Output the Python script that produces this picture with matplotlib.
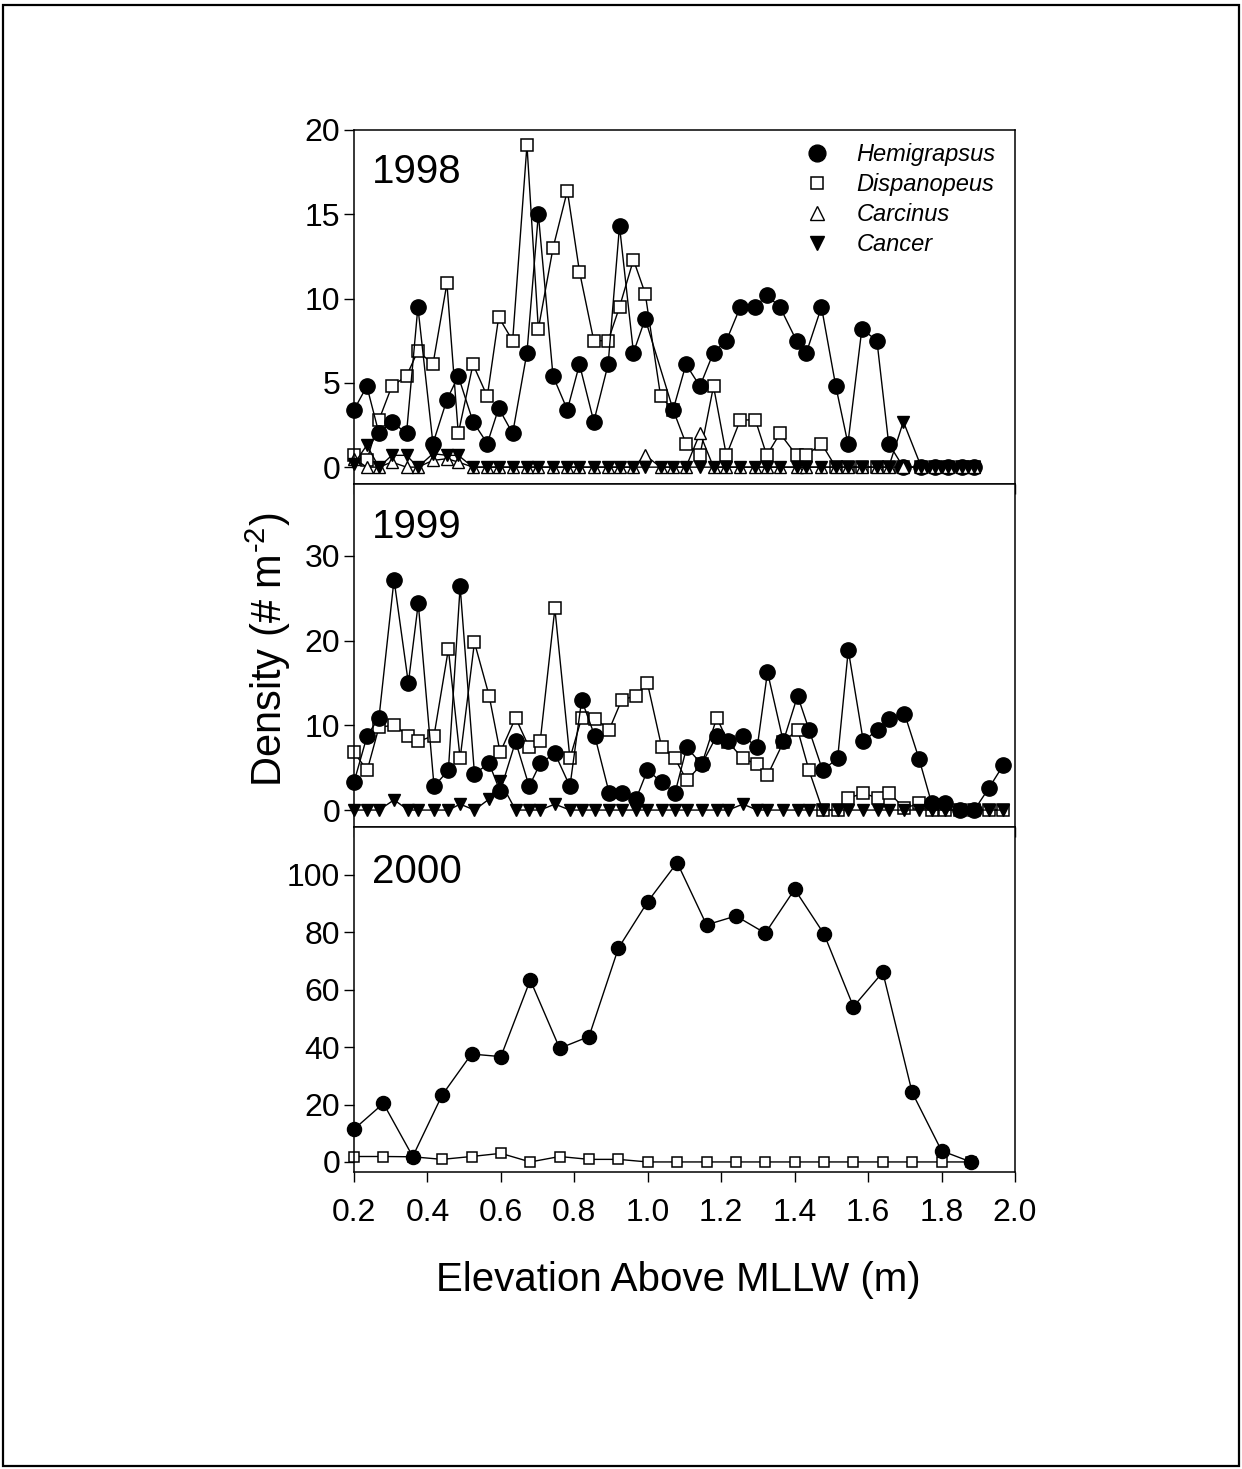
"""
Crab density vs elevation above MLLW, three survey years stacked.
Saves out.png
"""
import numpy as np
import matplotlib
matplotlib.use("Agg")
import matplotlib.pyplot as plt
from matplotlib.lines import Line2D
from matplotlib.patches import Rectangle

plt.rcParams["font.family"] = ["Liberation Sans", "DejaVu Sans"]
plt.rcParams["mathtext.fontset"] = "custom"
plt.rcParams["mathtext.rm"] = "Liberation Sans"
plt.rcParams["mathtext.it"] = "Liberation Sans:italic"

nan = np.nan

# ---- 1998 ----
elev_1998 = [0.200, 0.235, 0.268, 0.303, 0.343, 0.374, 0.415, 0.453, 0.484, 0.524,
             0.563, 0.594, 0.632, 0.671, 0.702, 0.742, 0.781, 0.814, 0.853, 0.892,
             0.923, 0.961, 0.993, 1.035, 1.069, 1.104, 1.142, 1.179, 1.214, 1.252,
             1.293, 1.324, 1.360, 1.405, 1.432, 1.473, 1.512, 1.545, 1.583, 1.624,
             1.656, 1.696, 1.745, 1.781, 1.818, 1.855, 1.887]
hemi_1998 = [3.4, 4.8, 2.0, 2.7, 2.0, 9.5, 1.4, 4.0, 5.4, 2.7,
             1.4, 3.5, 2.0, 6.8, 15.0, 5.4, 3.4, 6.1, 2.7, 6.1,
             14.3, 6.8, 8.8, nan, 3.4, 6.1, 4.8, 6.8, 7.5, 9.5,
             9.5, 10.2, 9.5, 7.5, 6.8, 9.5, 4.8, 1.4, 8.2, 7.5,
             1.4, 0, 0, 0, 0, 0, 0]
disp_1998 = [0.7, 0.4, 2.8, 4.8, 5.4, 6.9, 6.1, 10.9, 2.0, 6.1,
             4.2, 8.9, 7.5, 19.1, 8.2, 13.0, 16.4, 11.6, 7.5, 7.5,
             9.5, 12.3, 10.3, 4.2, 3.4, 1.4, 0.7, 4.8, 0.7, 2.8,
             2.8, 0.7, 2.0, 0.7, 0.7, 1.4, 0, 0, 0, 0,
             0, 0, 0, 0, 0, 0, 0]
carc_1998 = [0.5, 0, 0, 0.3, 0, 0, 0.4, 0.5, 0.3, 0,
             0, 0, 0, 0, 0, 0, 0, 0, 0, 0,
             0, 0, 0.7, 0, 0, 0, 2.0, 0, 0, 0,
             0, 0, 0, 0, 0, 0, 0, 0, 0, 0,
             0, 0, 0, 0, 0, 0, 0]
canc_1998 = [0.2, 1.3, 0, 0.7, 0.7, 0, 0.8, 0.7, 0.7, 0,
             0, 0, 0, 0, 0, 0, 0, 0, 0, 0,
             0, 0, 0, 0, 0, 0, 0, 0, 0, 0,
             0, 0, 0, 0, 0, 0, 0, 0, 0, 0,
             0, 2.7, 0, 0, 0, 0, 0]

# ---- 1999 ----
elev_1999 = [0.200, 0.236, 0.268, 0.309, 0.348, 0.375, 0.418, 0.457, 0.489, 0.528,
             0.568, 0.598, 0.640, 0.677, 0.707, 0.747, 0.788, 0.820, 0.856, 0.895,
             0.929, 0.968, 0.999, 1.038, 1.074, 1.106, 1.147, 1.188, 1.219, 1.259,
             1.298, 1.326, 1.369, 1.408, 1.439, 1.476, 1.517, 1.546, 1.587, 1.626,
             1.658, 1.699, 1.739, 1.773, 1.810, 1.850, 1.889, 1.929, 1.968]
hemi_1999 = [3.3, 8.8, 10.9, 27.2, 15.0, 24.4, 2.8, 4.7, 26.4, 4.3,
             5.5, 2.2, 8.1, 2.8, 5.5, 6.7, 2.8, 13.0, 8.7, 2.0,
             2.0, 1.3, 4.7, 3.3, 2.0, 7.4, 5.4, 8.8, 8.1, 8.8,
             7.4, 16.3, 8.1, 13.5, 9.5, 4.7, 6.1, 18.9, 8.1, 9.5,
             10.8, 11.4, 6.0, 0.8, 0.8, 0, 0, 2.6, 5.3]
disp_1999 = [6.8, 4.7, 9.8, 10.0, 8.8, 8.1, 8.8, 19.0, 6.1, 19.8,
             13.5, 6.8, 10.9, 7.4, 8.1, 23.8, 6.1, 10.9, 10.8, 9.5,
             13.0, 13.5, 15.0, 7.4, 6.1, 3.5, 5.4, 10.9, 8.0, 6.1,
             5.4, 4.1, 8.0, 9.5, 4.7, 0, 0, 1.4, 2.0, 1.4,
             2.0, 0.2, 0.8, 0, 0, 0, 0, 0, 0]
canc_1999 = [0, 0, 0, 1.2, 0, 0, 0, 0, 0.7, 0,
             1.3, 3.4, 0, 0, 0, 0.7, 0, 0, 0, 0,
             0, 0, 0, 0, 0, 0, 0, 0, 0, 0.7,
             0, 0, 0, 0, 0, 0, 0, 0, 0, 0,
             0, 0, 0, 0, 0, 0, 0, 0, 0]

# ---- 2000 ----
elev_2000 = [0.20, 0.28, 0.36, 0.44, 0.52, 0.60, 0.68, 0.76, 0.84, 0.92, 1.00,
             1.08, 1.16, 1.24, 1.32, 1.40, 1.48, 1.56, 1.64, 1.72, 1.80, 1.88]
hemi_2000 = [11.4, 20.4, 1.9, 23.3, 37.6, 36.7, 63.4, 39.6, 43.7, 74.5, 90.7,
             104.3, 82.6, 85.7, 79.7, 95.0, 79.4, 54.1, 66.1, 24.2, 3.9, 0.0]
disp_2000 = [1.9, 1.9, 1.8, 0.9, 1.9, 3.0, 0, 1.9, 0.9, 0.9, 0,
             0, 0, 0, 0, 0, 0, 0, 0, 0, 0, 0]

years = ["1998", "1999", "2000"]
yticks = [[0, 5, 10, 15, 20], [0, 10, 20, 30], [0, 20, 40, 60, 80, 100]]
ylims = [(-1, 20), (-2, 38.5), (-3.5, 116.7)]
xticks = [0.2, 0.4, 0.6, 0.8, 1.0, 1.2, 1.4, 1.6, 1.8, 2.0]

species = ["Hemigrapsus", "Dispanopeus", "Carcinus", "Cancer"]
STYLE = {
    "Hemigrapsus": dict(marker="o", ms=11, mfc="black", mec="black", mew=1.0),
    "Dispanopeus": dict(marker="s", ms=8.5, mfc="white", mec="black", mew=1.1),
    "Carcinus":    dict(marker="^", ms=9, mfc="white", mec="black", mew=1.0),
    "Cancer":      dict(marker="v", ms=9, mfc="black", mec="black", mew=1.0),
}
# draw order: squares under circles, triangles on top
panels = [
    {"Dispanopeus": disp_1998, "Hemigrapsus": hemi_1998,
     "Carcinus": carc_1998, "Cancer": canc_1998},
    {"Dispanopeus": disp_1999, "Hemigrapsus": hemi_1999, "Cancer": canc_1999},
    {"Dispanopeus": disp_2000, "Hemigrapsus": hemi_2000},
]
elevs = [elev_1998, elev_1999, elev_2000]

W, H = 1242, 1469
x0, x1 = 354, 1015
edges = [130, 484, 827, 1172]

fig = plt.figure(figsize=(W / 100, H / 100), dpi=100)

axes = []
for i in range(3):
    ax = fig.add_axes([x0 / W, 1 - edges[i + 1] / H, (x1 - x0) / W,
                       (edges[i + 1] - edges[i]) / H])
    axes.append(ax)

for i, ax in enumerate(axes):
    x = np.asarray(elevs[i], dtype=float)
    for name, vals in panels[i].items():
        y = np.asarray(vals, dtype=float)
        ok = np.isfinite(y)
        st = dict(STYLE[name])
        if i == 2:
            st["ms"] = st["ms"] * 0.92
        ax.plot(x[ok], y[ok], color="black", lw=1.0, clip_on=False, **st)

    ax.set_xlim(0.2, 2.0)
    ax.set_ylim(*ylims[i])
    ax.set_xticks(xticks)
    ax.set_yticks(yticks[i])
    ax.tick_params(axis="both", direction="out", length=7, width=1.0,
                   labelsize=23, top=False, right=False)
    ax.tick_params(axis="y", pad=3)
    ax.tick_params(axis="x", pad=12)
    if i < 2:
        ax.tick_params(axis="x", labelbottom=False)
    else:
        ax.set_xticklabels([f"{v:.1f}" for v in xticks])
    for sp in ax.spines.values():
        sp.set_linewidth(1.1)
    ax.text(0.027, [0.881, 0.875, 0.870][i], years[i], transform=ax.transAxes,
            fontsize=29, ha="left", va="center")

handles = [Line2D([], [], ls="none", color="black",
                  **dict(STYLE[s], ms=STYLE[s]["ms"] * 1.1)) for s in species]
axes[0].legend(handles, species, loc="upper left", bbox_to_anchor=(0.682, 0.963),
               frameon=False, borderpad=0, borderaxespad=0, handlelength=1.0,
               handletextpad=1.2, labelspacing=0.3,
               prop=dict(style="italic", size=17))

fig.text(268 / W, 1 - 650 / H, "Density (# m$^{\u2010 2}$)", rotation=90,
         ha="center", va="center", fontsize=30)
fig.text(678 / W, 1 - 1280 / H, "Elevation Above MLLW (m)",
         ha="center", va="center", fontsize=29)

fig.patches.append(Rectangle((3 / W, 3 / H), 1 - 6 / W, 1 - 8 / H,
                             transform=fig.transFigure, fill=False,
                             lw=1.6, ec="black"))

fig.savefig("out.png", dpi=100, facecolor="white")
